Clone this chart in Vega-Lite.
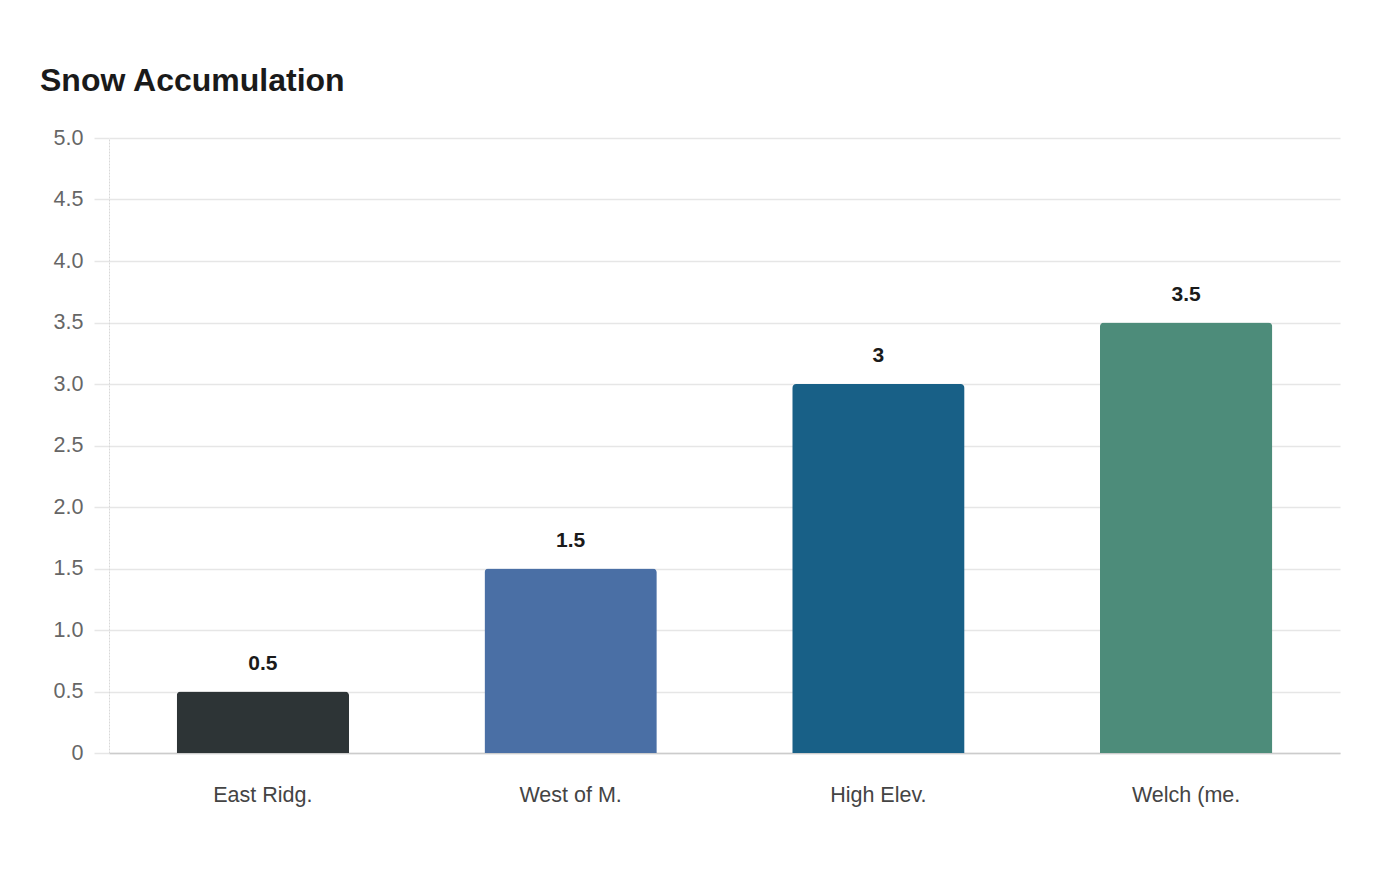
{
  "$schema": "https://vega.github.io/schema/vega-lite/v6.json",
  "width": 1231,
  "height": 615,
  "autosize": "none",
  "padding": {"left": 109, "top": 138, "right": 60, "bottom": 127},
  "background": "white",
  "title": {
    "text": "Snow Accumulation",
    "anchor": "start",
    "frame": "group",
    "font": "Liberation Sans",
    "fontSize": 32,
    "fontWeight": "bold",
    "color": "#1a1a1a",
    "baseline": "alphabetic",
    "dx": -69,
    "offset": 46,
    "dy": 42
  },
  "config": {
    "view": {"stroke": null},
    "font": "Liberation Sans"
  },
  "data": {
    "values": [
      {"site": "East Ridg.", "snow": 0.5, "color": "#2d3436"},
      {"site": "West of M.", "snow": 1.5, "color": "#4a6fa5"},
      {"site": "High Elev.", "snow": 3, "color": "#186087"},
      {"site": "Welch (me.", "snow": 3.5, "color": "#4d8c7a"}
    ]
  },
  "encoding": {
    "x": {
      "field": "site",
      "type": "nominal",
      "sort": null,
      "scale": {"paddingInner": 0.44, "paddingOuter": 0.22},
      "axis": {
        "title": null,
        "labelAngle": 0,
        "labelFontSize": 21.5,
        "labelColor": "#444444",
        "labelPadding": 31,
        "ticks": false,
        "domainColor": "#cccccc",
        "domainWidth": 1.5
      }
    },
    "y": {
      "field": "snow",
      "type": "quantitative",
      "scale": {"domain": [0, 5], "nice": false},
      "axis": {
        "title": null,
        "values": [0, 0.5, 1, 1.5, 2, 2.5, 3, 3.5, 4, 4.5, 5],
        "labelExpr": "datum.value === 0 ? '0' : format(datum.value, '.1f')",
        "labelFontSize": 21.5,
        "labelColor": "#666666",
        "labelPadding": 11,
        "tickSize": 15,
        "tickColor": "#e6e6e6",
        "tickWidth": 1.5,
        "gridColor": "#e6e6e6",
        "gridWidth": 1.5,
        "domainColor": "#d8d8d8",
        "domainDash": [2, 1]
      }
    }
  },
  "layer": [
    {
      "mark": {"type": "bar", "cornerRadiusTopLeft": 4, "cornerRadiusTopRight": 4},
      "encoding": {
        "color": {"field": "color", "type": "nominal", "scale": null, "legend": null}
      }
    },
    {
      "mark": {"type": "text", "baseline": "alphabetic", "dy": -22, "fontSize": 21, "fontWeight": "bold", "color": "#1a1a1a"},
      "encoding": {
        "text": {"field": "snow", "type": "quantitative"}
      }
    }
  ]
}
